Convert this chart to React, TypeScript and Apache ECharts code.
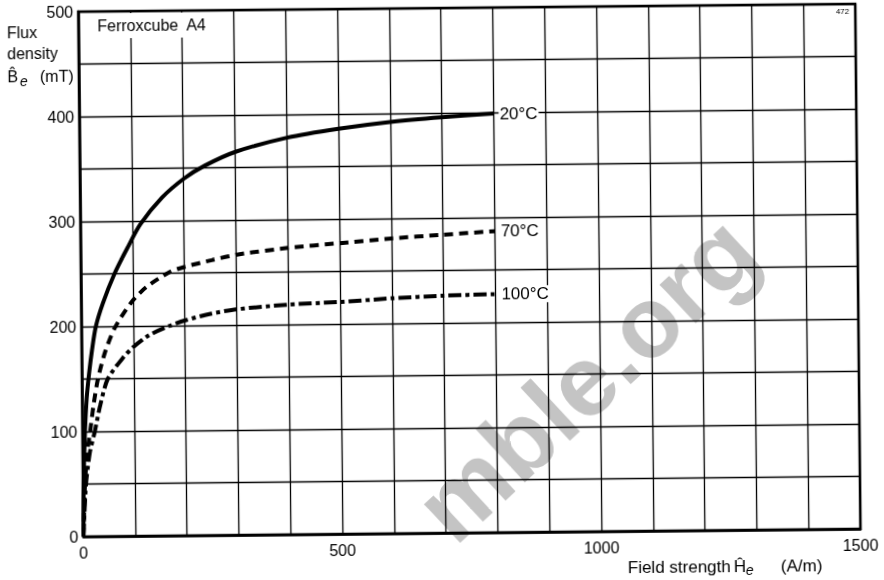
import React, { useEffect, useRef } from "react";
import * as echarts from "echarts";

// Field strength H (A/m) vs flux density B (mT)
const curve20C: number[][] = [
  [0, 0], [2, 60], [5, 100], [9, 132], [14, 155], [20, 177], [28, 200], [42, 222],
  [65, 250], [90, 274], [116, 297], [158, 322], [201, 340], [241, 352], [301, 365],
  [401, 378], [500, 386], [600, 392], [700, 396], [800, 399],
];
const curve70C: number[][] = [
  [0, 0], [4, 50], [9, 80], [15, 100], [22, 125], [31, 150], [45, 175], [64, 198],
  [96, 222], [126, 237], [171, 251], [201, 256], [253, 262], [301, 267], [401, 273],
  [500, 277], [600, 281], [700, 284], [800, 287],
];
const curve100C: number[][] = [
  [0, 0], [6, 50], [14, 80], [24, 100], [35, 125], [50, 150], [80, 170], [100, 180],
  [130, 191], [171, 200], [201, 205], [250, 211], [301, 215], [401, 219], [500, 221],
  [600, 224], [700, 226], [800, 227],
];
const seriesNames = ["20°C", "70°C", "100°C"];
const xLabelValues = [0, 500, 1000, 1500];
const yLabelValues = [0, 100, 200, 300, 400, 500];

const FONT = "Liberation Sans";

export default function App() {
  const ref = useRef<HTMLDivElement>(null);
  useEffect(() => {
    if (!ref.current) return;
    const chart = echarts.init(ref.current, undefined, { renderer: "svg" });
    const endLabel = {
      show: true,
      formatter: (p: any) => p.seriesName,
      fontSize: 17,
      fontFamily: FONT,
      color: "#000",
      distance: 5,
      backgroundColor: "#fff",
      padding: [0, 1],
    };
    const txt = (text: string, x: number, y: number, size: number, extra: any = {}) => ({
      type: "text",
      x,
      y,
      z: 20,
      style: {
        text,
        fill: "#000",
        fontSize: size,
        fontFamily: FONT,
        textAlign: "left",
        verticalAlign: "middle",
        textVerticalAlign: "middle",
        ...extra,
      },
    });
    chart.setOption({
      animation: false,
      backgroundColor: "#fff",
      textStyle: { fontFamily: FONT },
      grid: {
        left: 81,
        top: 8,
        width: 777,
        height: 525,
        show: true,
        borderColor: "#000",
        borderWidth: 2.5,
        backgroundColor: "transparent",
      },
      xAxis: {
        type: "value",
        min: 0,
        max: 1500,
        interval: 100,
        axisLine: { show: true, lineStyle: { color: "#000", width: 2.5 } },
        axisTick: { show: false },
        splitLine: { show: true, lineStyle: { color: "#000", width: 1.3 } },
        axisLabel: {
          color: "#000",
          fontSize: 16,
          fontFamily: FONT,
          margin: 8,
          showMaxLabel: true,
          formatter: (v: number) => (xLabelValues.includes(v) ? String(v) : ""),
        },
      },
      yAxis: {
        type: "value",
        min: 0,
        max: 500,
        interval: 50,
        axisLine: { show: true, lineStyle: { color: "#000", width: 2.5 } },
        axisTick: { show: false },
        splitLine: { show: true, lineStyle: { color: "#000", width: 1.3 } },
        axisLabel: {
          color: "#000",
          fontSize: 16,
          fontFamily: FONT,
          margin: 5,
          showMaxLabel: true,
          formatter: (v: number) => (yLabelValues.includes(v) ? String(v) : ""),
        },
      },
      series: [
        {
          name: seriesNames[0],
          type: "line",
          data: curve20C,
          showSymbol: false,
          smooth: 0.3,
          lineStyle: { color: "#000", width: 4, type: "solid" },
          endLabel,
          z: 5,
        },
        {
          name: seriesNames[1],
          type: "line",
          data: curve70C,
          showSymbol: false,
          smooth: 0.25,
          lineStyle: { color: "#000", width: 4, type: [9, 6], cap: "butt" },
          endLabel,
          z: 5,
        },
        {
          name: seriesNames[2],
          type: "line",
          data: curve100C,
          showSymbol: false,
          smooth: 0.25,
          lineStyle: { color: "#000", width: 4, type: [13, 4, 4, 4], cap: "butt" },
          endLabel,
          z: 5,
        },
      ],
      graphic: [
        {
          type: "text",
          x: 585,
          y: 380,
          rotation: 0.74,
          z: -1,
          style: {
            text: "mble.org",
            fill: "#c4c4c4",
            fontSize: 100,
            fontWeight: "bold",
            fontFamily: FONT,
            textAlign: "center",
            verticalAlign: "middle",
            textVerticalAlign: "middle",
          },
        },
        {
          type: "rect",
          z: 10,
          shape: { x: 83, y: 10, width: 147, height: 25 },
          style: { fill: "#fff" },
        },
        txt("Ferroxcube  A4", 100, 22.5, 16),
        txt("Flux", 9.5, 28.7, 16),
        txt("density", 9.5, 49.6, 16),
        txt("B\u0302", 9.5, 72, 16),
        txt("e", 22, 77, 14, { fontStyle: "italic" }),
        txt("(mT)", 42, 72, 16),
        txt("Field strength", 625, 569, 17),
        txt("Ĥ", 731, 569.5, 17),
        txt("e", 743, 573, 14, { fontStyle: "italic" }),
        txt("(A/m)", 778, 569.5, 17),
        txt("472", 852, 15, 8, { textAlign: "right" }),
      ],
    });
    return () => chart.dispose();
  }, []);
  return (
    <div
      ref={ref}
      style={{
        position: "fixed",
        left: 0,
        top: 0,
        width: 884,
        height: 580,
        background: "#fff",
        transform: "rotate(-0.57deg)",
        transformOrigin: "50% 50%",
      }}
    />
  );
}
